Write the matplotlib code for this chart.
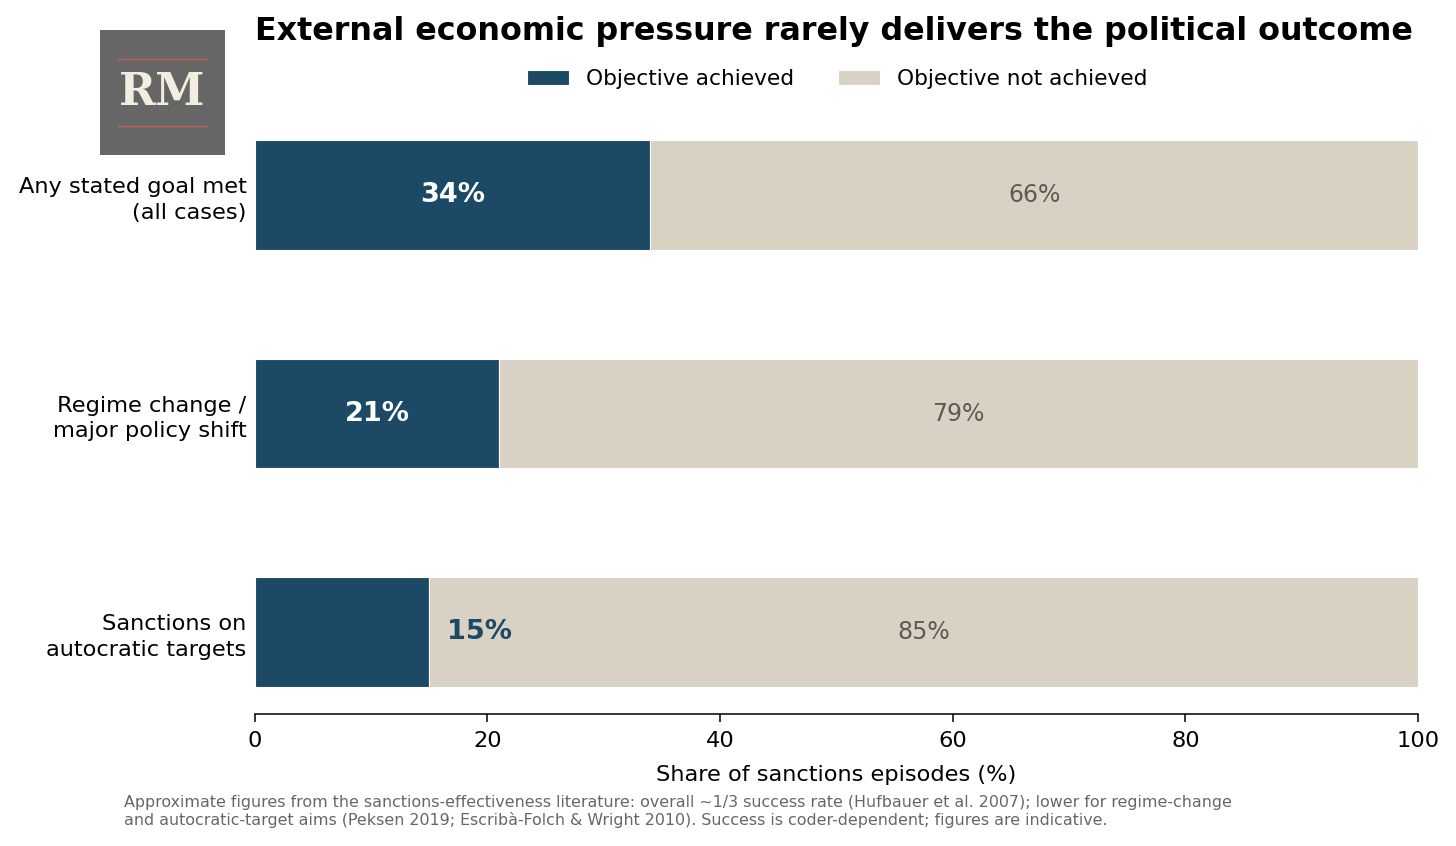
import matplotlib.pyplot as plt
import numpy as np

categories = ["Any stated goal met\n(all cases)", "Regime change /\nmajor policy shift", "Sanctions on\nautocratic targets"]
achieved = [34, 21, 15]
not_achieved = [66, 79, 85]

NAVY = "#1c4966"
BEIGE = "#d9d1c3"

fig = plt.figure(figsize=(14.56, 8.46), dpi=100)
ax = fig.add_axes([0.175, 0.156, 0.799, 0.7104])

y = np.arange(len(categories))
ax.barh(y, achieved, height=0.5, color=NAVY, edgecolor="white", linewidth=0.8, label="Objective achieved")
ax.barh(y, not_achieved, left=achieved, height=0.5, color=BEIGE, edgecolor="white", linewidth=0.8,
        label="Objective not achieved")

for i, (a, n) in enumerate(zip(achieved, not_achieved)):
    if a >= 20:
        ax.text(a / 2, i, f"{a}%", ha="center", va="center", color="white", fontsize=19.5, fontweight="bold")
    else:
        ax.text(a + 1.5, i, f"{a}%", ha="left", va="center", color=NAVY, fontsize=19.5, fontweight="bold")
    ax.text(a + n / 2, i, f"{n}%", ha="center", va="center", color="#5e5a55", fontsize=17)

ax.set_yticks(y)
ax.set_yticklabels(categories, fontsize=16.2, linespacing=1.35)
ax.invert_yaxis()
ax.set_xlim(0, 100)
ax.tick_params(axis="y", length=0, pad=6)
ax.tick_params(axis="x", labelsize=16.2, length=6, width=1.1, pad=6)
ax.spines["bottom"].set_linewidth(1.1)
ax.set_xlabel("Share of sanctions episodes (%)", fontsize=16.2, labelpad=10)
for s in ["top", "right", "left"]:
    ax.spines[s].set_visible(False)

handles, labels = ax.get_legend_handles_labels()
fig.legend(handles, labels, loc="center", bbox_to_anchor=(0.575, 0.907), ncol=2, frameon=False,
           fontsize=15.6, handlelength=1.95, handleheight=0.7, columnspacing=2.0, handletextpad=0.8)

fig.text(0.175, 0.963, "External economic pressure rarely delivers the political outcome",
         ha="left", va="center", fontsize=22.9, fontweight="bold")

fig.text(0.085, 0.041, "Approximate figures from the sanctions-effectiveness literature: overall ~1/3 success rate "
         "(Hufbauer et al. 2007); lower for regime-change\nand autocratic-target aims (Peksen 2019; "
         "Escribà-Folch & Wright 2010). Success is coder-dependent; figures are indicative.",
         ha="left", va="center", fontsize=11.45, color="#666666", linespacing=1.15)

# logo
logo = fig.add_axes([100 / 1456, 1 - 155 / 846, 125 / 1456, 125 / 846])
logo.set_facecolor("#666666")
logo.set_xlim(0, 1)
logo.set_ylim(0, 1)
logo.set_xticks([])
logo.set_yticks([])
for s in logo.spines.values():
    s.set_visible(False)
logo.plot([0.14, 0.86], [0.77, 0.77], color="#c0605a", lw=1)
logo.plot([0.14, 0.86], [0.23, 0.23], color="#c0605a", lw=1)
logo.text(0.5, 0.5, "RM", ha="center", va="center", color="#f3ede0", fontsize=32,
          fontweight="bold", family="DejaVu Serif")

fig.savefig("out.png", dpi=100)
